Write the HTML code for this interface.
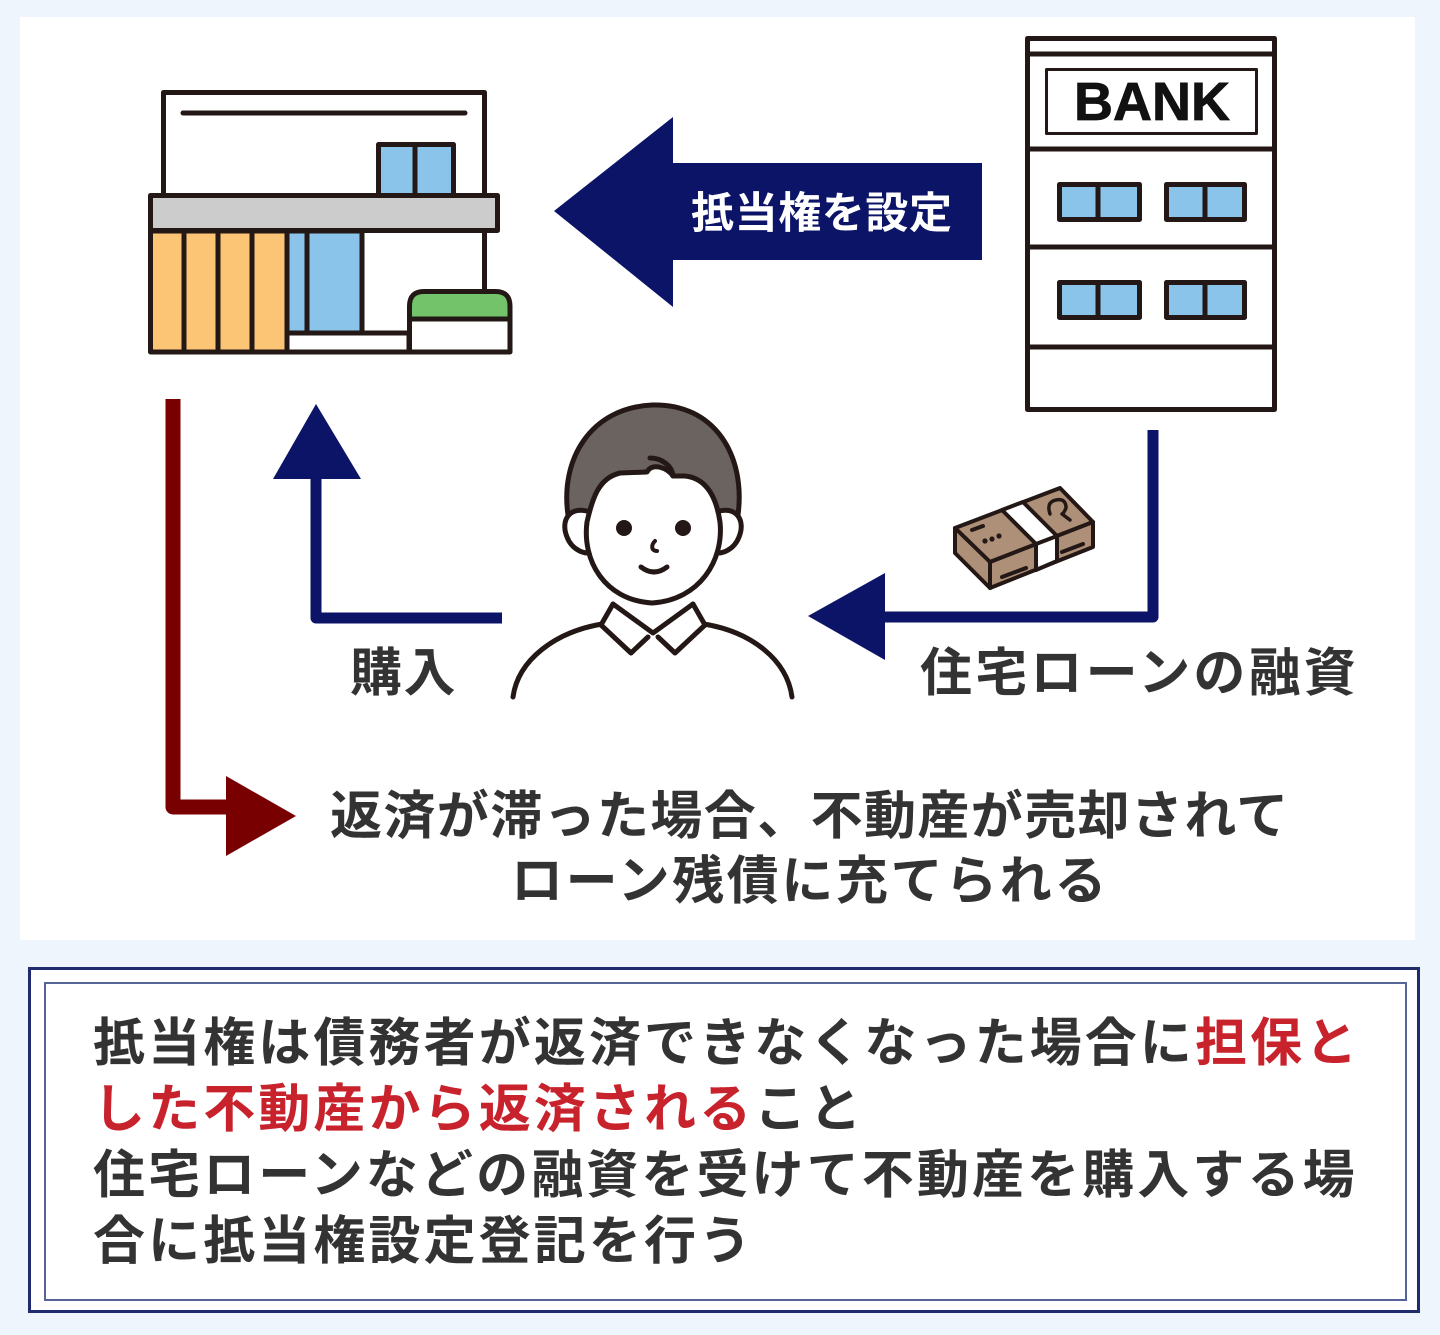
<!DOCTYPE html>
<html><head><meta charset="utf-8">
<style>
html,body{margin:0;padding:0;background:#eef5fd;}
body{width:1440px;height:1335px;overflow:hidden;position:relative;}
svg{position:absolute;left:0;top:0;}
.t{font-family:"Liberation Sans","Noto Sans CJK JP",sans-serif;font-weight:700;}
</style></head>
<body>
<svg width="1440" height="1335" viewBox="0 0 1440 1335" xmlns="http://www.w3.org/2000/svg">
  <!-- panels -->
  <rect x="20" y="17" width="1395" height="923" fill="#ffffff"/>
  <rect x="29.5" y="968.5" width="1389" height="343" fill="#ffffff" stroke="#1f2d6e" stroke-width="3"/>
  <rect x="45" y="983" width="1361" height="317" fill="#ffffff" stroke="#56649a" stroke-width="2"/>

  <!-- House -->
  <g stroke="#231815" stroke-width="5" stroke-linejoin="round">
    <rect x="163.5" y="92.5" width="321" height="110" fill="#fff"/>
    <line x1="183" y1="113" x2="465" y2="113" stroke-linecap="round"/>
    <rect x="378.5" y="144.5" width="75" height="54" fill="#8ac4ea"/>
    <line x1="415" y1="144" x2="415" y2="198"/>
    <line x1="484.5" y1="228" x2="484.5" y2="292"/>
    <rect x="150.5" y="231" width="136.5" height="121" fill="#fbc575"/>
    <line x1="184" y1="231" x2="184" y2="352"/>
    <line x1="218" y1="231" x2="218" y2="352"/>
    <line x1="252" y1="231" x2="252" y2="352"/>
    <rect x="287" y="231" width="75" height="102" fill="#8ac4ea"/>
    <line x1="307" y1="231" x2="307" y2="333"/>
    <rect x="287" y="333" width="122" height="19" fill="#fff"/>
    <rect x="150.5" y="195.5" width="347" height="35" fill="#cccccc"/>
    <path d="M409.5,319 V306 Q409.5,291.5 424,291.5 H495.5 Q510,291.5 510,306 V319 Z" fill="#72c369"/>
    <rect x="409.5" y="319" width="100.5" height="33" fill="#fff"/>
  </g>

  <!-- Bank -->
  <g stroke="#231815" stroke-width="5" stroke-linejoin="round">
    <rect x="1027.5" y="38.5" width="247" height="371" fill="#fff"/>
    <line x1="1027" y1="54" x2="1275" y2="54"/>
    <rect x="1046.5" y="69.5" width="210" height="64" fill="#fff" stroke-width="3"/>
    <line x1="1027" y1="149" x2="1275" y2="149"/>
    <line x1="1027" y1="247" x2="1275" y2="247"/>
    <line x1="1027" y1="347" x2="1275" y2="347"/>
    <rect x="1059.5" y="184.5" width="80" height="35" fill="#8ac4ea"/>
    <line x1="1098" y1="184" x2="1098" y2="220"/>
    <rect x="1166.5" y="184.5" width="78" height="35" fill="#8ac4ea"/>
    <line x1="1205" y1="184" x2="1205" y2="220"/>
    <rect x="1059.5" y="282.5" width="80" height="35" fill="#8ac4ea"/>
    <line x1="1098" y1="282" x2="1098" y2="318"/>
    <rect x="1166.5" y="282.5" width="78" height="35" fill="#8ac4ea"/>
    <line x1="1205" y1="282" x2="1205" y2="318"/>
  </g>
  <text x="1152" y="120" text-anchor="middle" font-family="Liberation Sans, sans-serif" font-weight="700" font-size="54" fill="#111" stroke="#111" stroke-width="0.8">BANK</text>

  <!-- Big arrow -->
  <polygon points="554,211 673,117 673,163 982,163 982,260 673,260 673,307" fill="#0c1467"/>
  <text class="t" x="691" y="228" font-size="43" fill="#ffffff" style="letter-spacing:0.6px">抵当権を設定</text>

  <!-- Red connector -->
  <path d="M173,399 V807 H240" fill="none" stroke="#780000" stroke-width="15" stroke-linejoin="round"/>
  <polygon points="226,776 296,816 226,856" fill="#780000"/>

  <!-- Blue purchase connector -->
  <path d="M502,618 H316 V470" fill="none" stroke="#0c1467" stroke-width="11" stroke-linejoin="round"/>
  <polygon points="273,479 316,404 361,479" fill="#0c1467"/>

  <!-- Loan connector -->
  <path d="M1153,430 V617 H870" fill="none" stroke="#0c1467" stroke-width="11" stroke-linejoin="round"/>
  <polygon points="808,616 885,573 885,660" fill="#0c1467"/>

  <!-- Money -->
  <g stroke="#231815" stroke-width="4" stroke-linejoin="round" stroke-linecap="round">
    <polygon points="955,528 1060,488 1093,522 990,562" fill="#ae8f78"/>
    <polygon points="990,562 1093,522 1093,547 990,588" fill="#ae8f78"/>
    <polygon points="955,528 990,562 990,588 955,553" fill="#ae8f78"/>
    <polygon points="1002,510 1023,502 1057,536 1057,561 1036,570 1036,544" fill="#ffffff"/>
    <line x1="1036" y1="544" x2="1057" y2="536"/>
    <line x1="972" y1="530" x2="983" y2="526"/>
    <line x1="1002" y1="577" x2="1026" y2="568"/>
    <line x1="1062" y1="552" x2="1083" y2="544"/>
    <path d="M1050,514 q-4,-12 6,-14 q10,-2 10,8 q-2,5 -4,6 l8,6" fill="none" stroke-width="3.5"/>
  </g>
  <g fill="#231815">
    <circle cx="985" cy="541" r="2.6"/>
    <circle cx="992" cy="539" r="2.6"/>
    <circle cx="999" cy="536" r="2.6"/>
  </g>

  <!-- Person -->
  <g stroke="#231815" stroke-width="5" stroke-linecap="round" stroke-linejoin="round">
    <path d="M568,515 C560,460 590,408 652,405 C714,403 746,455 738,515 Z" fill="#6b6360"/>
    <!-- ears -->
    <path d="M590,512 C570,505 560,520 567,537 C572,550 585,555 592,552 Z" fill="#fff"/>
    <path d="M716,512 C736,505 746,520 739,537 C734,550 721,555 714,552 Z" fill="#fff"/>
    <!-- face -->
    <path d="M587,522 C592,500 598,478 620,473 L647,472 C652,462 668,468 673,476 L685,476 C705,478 716,495 720,522 C724,560 700,600 652,603 C604,600 582,560 587,522 Z" fill="#fff"/>
    <path d="M650,458 C662,458 672,466 673,476" fill="none"/>
    <!-- mouth -->
    <path d="M641,567 Q654,577 667,567" fill="none"/>
    <!-- nose -->
    <path d="M655,541 C651,545 651,551 657,551" fill="none" stroke-width="4"/>
    <!-- shoulders -->
    <path d="M513,697 C518,660 555,632 602,624" fill="none"/>
    <path d="M792,697 C787,660 752,632 704,624" fill="none"/>
    <!-- collar -->
    <path d="M613,604 L601,625 L631,653 L648,637" fill="#fff"/>
    <path d="M693,604 L705,625 L675,653 L658,637" fill="#fff"/>
    <path d="M613,604 L653,633 L693,604" fill="none"/>
  </g>
  <circle cx="624" cy="528" r="8" fill="#231815"/>
  <circle cx="683" cy="528" r="8" fill="#231815"/>

  <!-- Labels -->
  <text class="t" x="350" y="691" font-size="52" fill="#333" style="letter-spacing:1.5px">購入</text>
  <text class="t" x="920" y="691" font-size="52" fill="#333" style="letter-spacing:3.2px">住宅ローンの融資</text>
  <text class="t" x="330" y="834" font-size="52" fill="#333" style="letter-spacing:1.4px">返済が滞った場合、不動産が売却されて</text>
  <text class="t" x="511" y="899" font-size="52" fill="#333" style="letter-spacing:2.6px">ローン残債に充てられる</text>

  <!-- Bottom box text -->
  <g class="t" font-size="52" style="letter-spacing:3.1px">
    <text x="93" y="1061" fill="#333">抵当権は債務者が返済できなくなった場合に<tspan fill="#c8232c">担保と</tspan></text>
    <text x="93" y="1127" fill="#c8232c">した不動産から返済される<tspan fill="#333">こと</tspan></text>
    <text x="93" y="1193" fill="#333">住宅ローンなどの融資を受けて不動産を購入する場</text>
    <text x="93" y="1259" fill="#333">合に抵当権設定登記を行う</text>
  </g>
</svg>
</body></html>
